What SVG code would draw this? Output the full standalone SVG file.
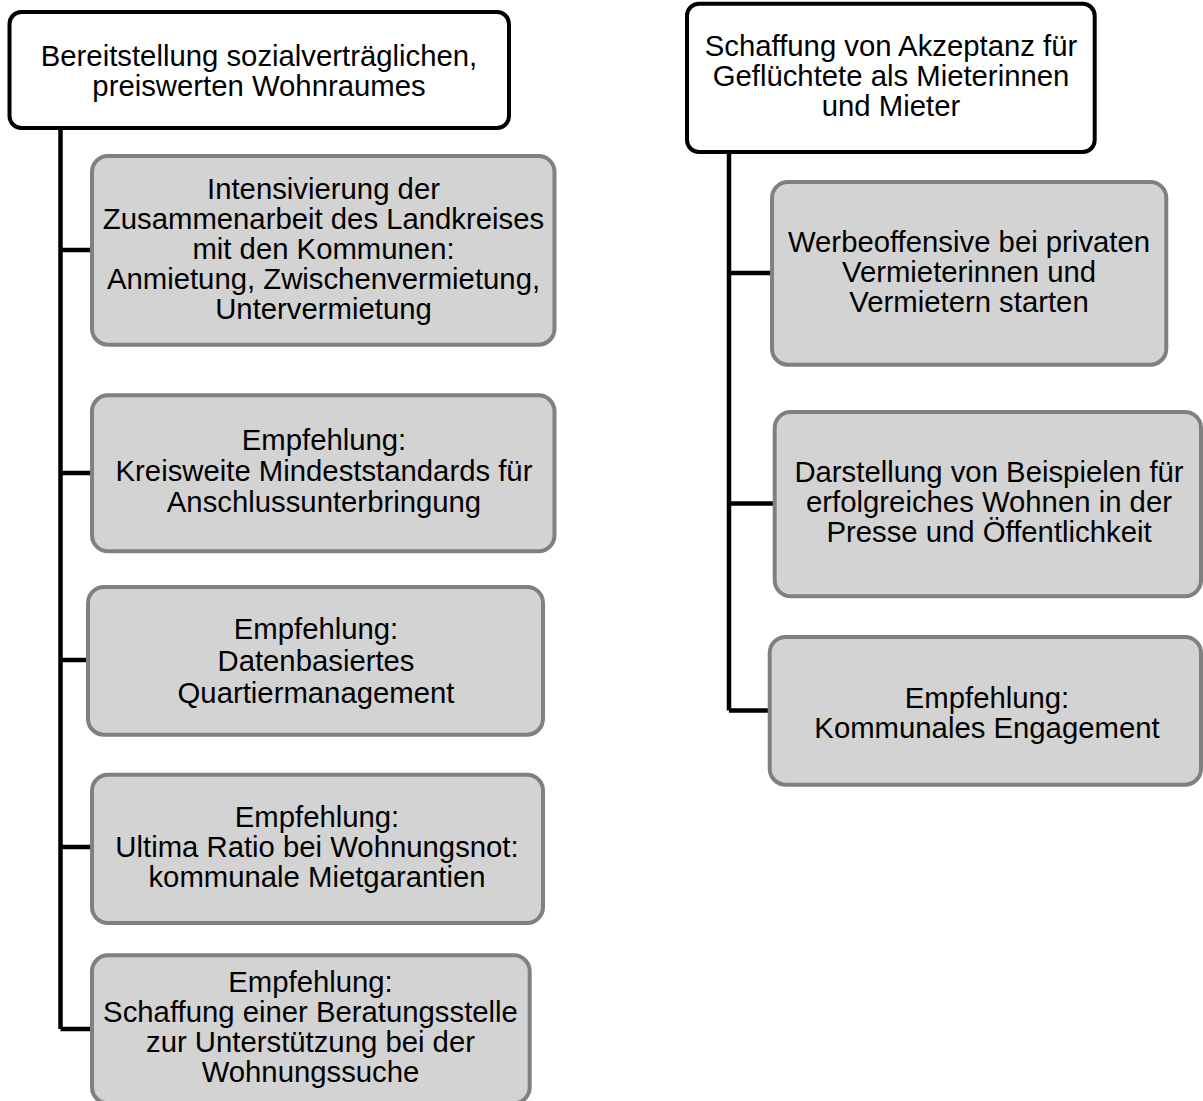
<svg xmlns="http://www.w3.org/2000/svg" width="1203" height="1101" viewBox="0 0 1203 1101">
<style>
.top{fill:#fff;stroke:#000;stroke-width:4}
.sub{fill:#d3d3d3;stroke:#808080;stroke-width:4}
.con{fill:none;stroke:#000;stroke-width:4.5}
text{font-family:"Liberation Sans",Arial,sans-serif;font-size:29.3px;fill:#000;text-anchor:middle}
</style>
<rect width="1203" height="1101" fill="#fff"/>
<g id="connectors">
<path class="con" d="M60.5,128 V1029 M60.5,250 H92 M60.5,473 H92 M60.5,660 H88 M60.5,847 H92 M60.5,1029 H92"/>
<path class="con" d="M729,153 V710.5 M729,273 H772 M729,503.5 H774 M729,710.5 H770"/>
</g>
<g id="n-left-top"><rect class="top" x="9.5" y="12" width="499.5" height="116" rx="12"/>
<text x="259" y="66">Bereitstellung sozialverträglichen,</text><text x="259" y="96">preiswerten Wohnraumes</text></g>
<g id="n-l1"><rect class="sub" x="92" y="156" width="462.5" height="188.7" rx="16"/>
<text x="323.5" y="198.5">Intensivierung der</text><text x="323.5" y="228.5">Zusammenarbeit des Landkreises</text><text x="323.5" y="258.5">mit den Kommunen:</text><text x="323.5" y="288.5">Anmietung, Zwischenvermietung,</text><text x="323.5" y="318.5">Untervermietung</text></g>
<g id="n-l2"><rect class="sub" x="92" y="395.3" width="462.5" height="156" rx="16"/>
<text x="324" y="450">Empfehlung:</text><text x="324" y="481">Kreisweite Mindeststandards für</text><text x="324" y="511.5">Anschlussunterbringung</text></g>
<g id="n-l3"><rect class="sub" x="88" y="587" width="455" height="147.7" rx="16"/>
<text x="316" y="638.5">Empfehlung:</text><text x="316" y="670.5">Datenbasiertes</text><text x="316" y="703">Quartiermanagement</text></g>
<g id="n-l4"><rect class="sub" x="92" y="774.7" width="451" height="148.3" rx="16"/>
<text x="317" y="826.5">Empfehlung:</text><text x="317" y="856.5">Ultima Ratio bei Wohnungsnot:</text><text x="317" y="886.5">kommunale Mietgarantien</text></g>
<g id="n-l5"><rect class="sub" x="92" y="955.3" width="437.7" height="148" rx="16"/>
<text x="310.5" y="992">Empfehlung:</text><text x="310.5" y="1022">Schaffung einer Beratungsstelle</text><text x="310.5" y="1052">zur Unterstützung bei der</text><text x="310.5" y="1082">Wohnungssuche</text></g>
<g id="n-right-top"><rect class="top" x="687" y="3.7" width="407.7" height="148.3" rx="12"/>
<text x="891" y="55.5">Schaffung von Akzeptanz für</text><text x="891" y="85.5">Geflüchtete als Mieterinnen</text><text x="891" y="115.5">und Mieter</text></g>
<g id="n-r1"><rect class="sub" x="772" y="182" width="394.3" height="182.7" rx="16"/>
<text x="969" y="251.7">Werbeoffensive bei privaten</text><text x="969" y="281.7">Vermieterinnen und</text><text x="969" y="311.7">Vermietern starten</text></g>
<g id="n-r2"><rect class="sub" x="774.7" y="412" width="426.3" height="184.3" rx="16"/>
<text x="989" y="481.7">Darstellung von Beispielen für</text><text x="989" y="511.7">erfolgreiches Wohnen in der</text><text x="989" y="541.7">Presse und Öffentlichkeit</text></g>
<g id="n-r3"><rect class="sub" x="769.7" y="637" width="431.3" height="147.7" rx="16"/>
<text x="987" y="707.5">Empfehlung:</text><text x="987" y="737.5">Kommunales Engagement</text></g>
</svg>
